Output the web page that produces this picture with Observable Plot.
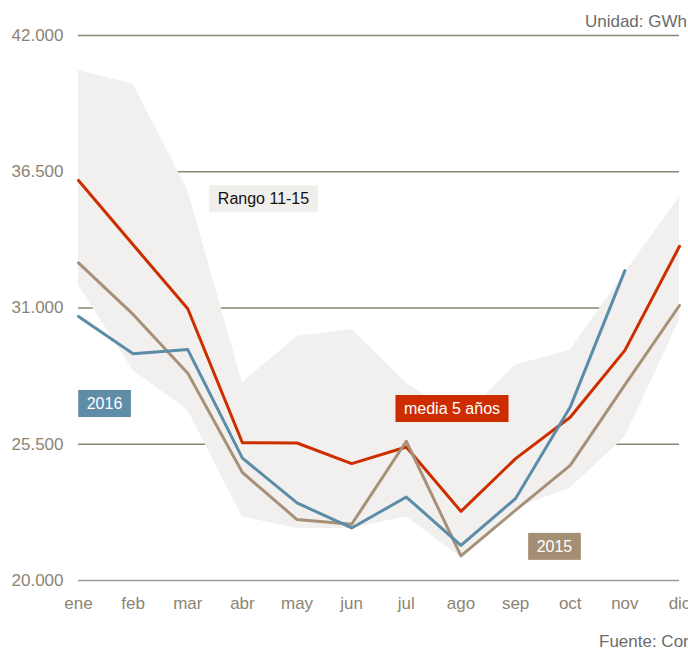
<!DOCTYPE html>
<html>
<head>
<meta charset="utf-8">
<script src="https://cdn.jsdelivr.net/npm/d3@7"></script>
<script src="https://cdn.jsdelivr.net/npm/@observablehq/plot@0.6"></script>
<style>
  html, body { margin: 0; padding: 0; background: #fff; overflow: hidden; }
  #wrap { position: relative; width: 688px; height: 648px; overflow: hidden; font-family: "Liberation Sans", Arial, sans-serif; }
  #unit { position: absolute; right: 1px; top: 13px; font-size: 17px; line-height: 17px; color: #6b6b6b; white-space: nowrap; }
  #head { height: 30px; }
  #source { position: absolute; left: 599px; top: 633px; font-size: 17px; line-height: 17px; color: #6b6b6b; white-space: nowrap; }
</style>
</head>
<body>
<div id="wrap">
  <div id="head"></div>
  <div id="unit">Unidad: GWh</div>
  <div id="chart"></div>
  <div id="source">Fuente: Cores</div>
</div>
<script>
const months = ["ene","feb","mar","abr","may","jun","jul","ago","sep","oct","nov","dic"];
const media5 = [36150, 33550, 30970, 25560, 25550, 24720, 25390, 22790, 24920, 26590, 29290, 33490];
const y2016 = [30660, 29150, 29320, 24940, 23130, 22120, 23370, 21420, 23310, 27000, 32510, null];
const y2015 = [32820, 30740, 28370, 24360, 22460, 22270, 25620, 20990, 22840, 24650, 27900, 31100];
const rangoMax = [40580, 40040, 35740, 27980, 29850, 30130, 27970, 26500, 28700, 29290, 32430, 35460];
const rangoMin = [31910, 28480, 26870, 22570, 22100, 22100, 22570, 20930, 22920, 23720, 25780, 30500];
const yTicks = [20000, 25500, 31000, 36500, 42000];
const gridTicks = [25500, 31000, 36500, 42000];
// annotation anchors (month index, value)
const annLabels = ["Rango 11-15", "2016", "media 5 años", "2015"];
const annX = [3.386, 0.476, 6.836, 8.711];
const annY = [35395, 27129, 26927, 21363];
const annBg = ["#f1efec", "#5f8ca6", "#cc2c00", "#a58f74"];
const annFg = ["#111111", "#ffffff", "#ffffff", "#ffffff"];

const idx = d3.range(months.length);
const fmt = d3.formatLocale({decimal: ",", thousands: ".", grouping: [3], currency: ["", ""]}).format(",.0f");
const ann = annLabels.map((label, i) => ({label, x: annX[i], y: annY[i], bg: annBg[i], fg: annFg[i]}));

const chart = Plot.plot({
  width: 688,
  height: 618,
  marginTop: 5,
  marginBottom: 68,
  marginLeft: 78,
  marginRight: 9,
  style: {fontFamily: "'Liberation Sans', Arial, sans-serif", fontSize: "17px", color: "#8c8473", background: "transparent", overflow: "visible"},
  x: {domain: [0, 11], ticks: idx, tickFormat: i => months[i], tickSize: 0, tickPadding: 16, label: null},
  y: {domain: [20000, 42000], ticks: yTicks, tickFormat: fmt, tickSize: 0, tickPadding: 15, label: null},
  marks: [
    Plot.ruleY(gridTicks, {y: d => d, stroke: "#8d8672", strokeWidth: 1.5}),
    Plot.ruleY([20000], {y: d => d, stroke: "#9a9a9a", strokeWidth: 1.5}),
    Plot.areaY(idx, {x: i => i, y1: i => rangoMin[i], y2: i => rangoMax[i], fill: "#f2f0ee"}),
    Plot.line(idx, {x: i => i, y: i => media5[i], stroke: "#cc2e00", strokeWidth: 3}),
    Plot.line(idx, {x: i => i, y: i => y2015[i], stroke: "#a69178", strokeWidth: 3}),
    Plot.line(idx.filter(i => y2016[i] != null), {x: i => i, y: i => y2016[i], stroke: "#5b8ca8", strokeWidth: 3}),
    Plot.text(ann.slice(0, 1), {x: "x", y: "y", text: "label", fill: annFg[0], fontSize: 16}),
    Plot.text(ann.slice(1), {x: "x", y: "y", text: "label", fill: "#ffffff", fontSize: 16})
  ]
});
document.getElementById("chart").appendChild(chart);

// add label boxes behind annotation texts
const texts = chart.querySelectorAll('g[aria-label="text"] text');
texts.forEach((t, i) => {
  const bb = t.getBBox();
  const padX = 8.5;
  const h = 27;
  const cy = bb.y + bb.height / 2;
  const r = document.createElementNS("http://www.w3.org/2000/svg", "rect");
  r.setAttribute("x", bb.x - padX);
  r.setAttribute("y", cy - h / 2);
  r.setAttribute("width", bb.width + 2 * padX);
  r.setAttribute("height", h);
  r.setAttribute("fill", ann[i].bg);
  const tr = t.getAttribute("transform");
  if (tr) r.setAttribute("transform", tr);
  t.parentNode.insertBefore(r, t);
});
</script>
</body>
</html>
